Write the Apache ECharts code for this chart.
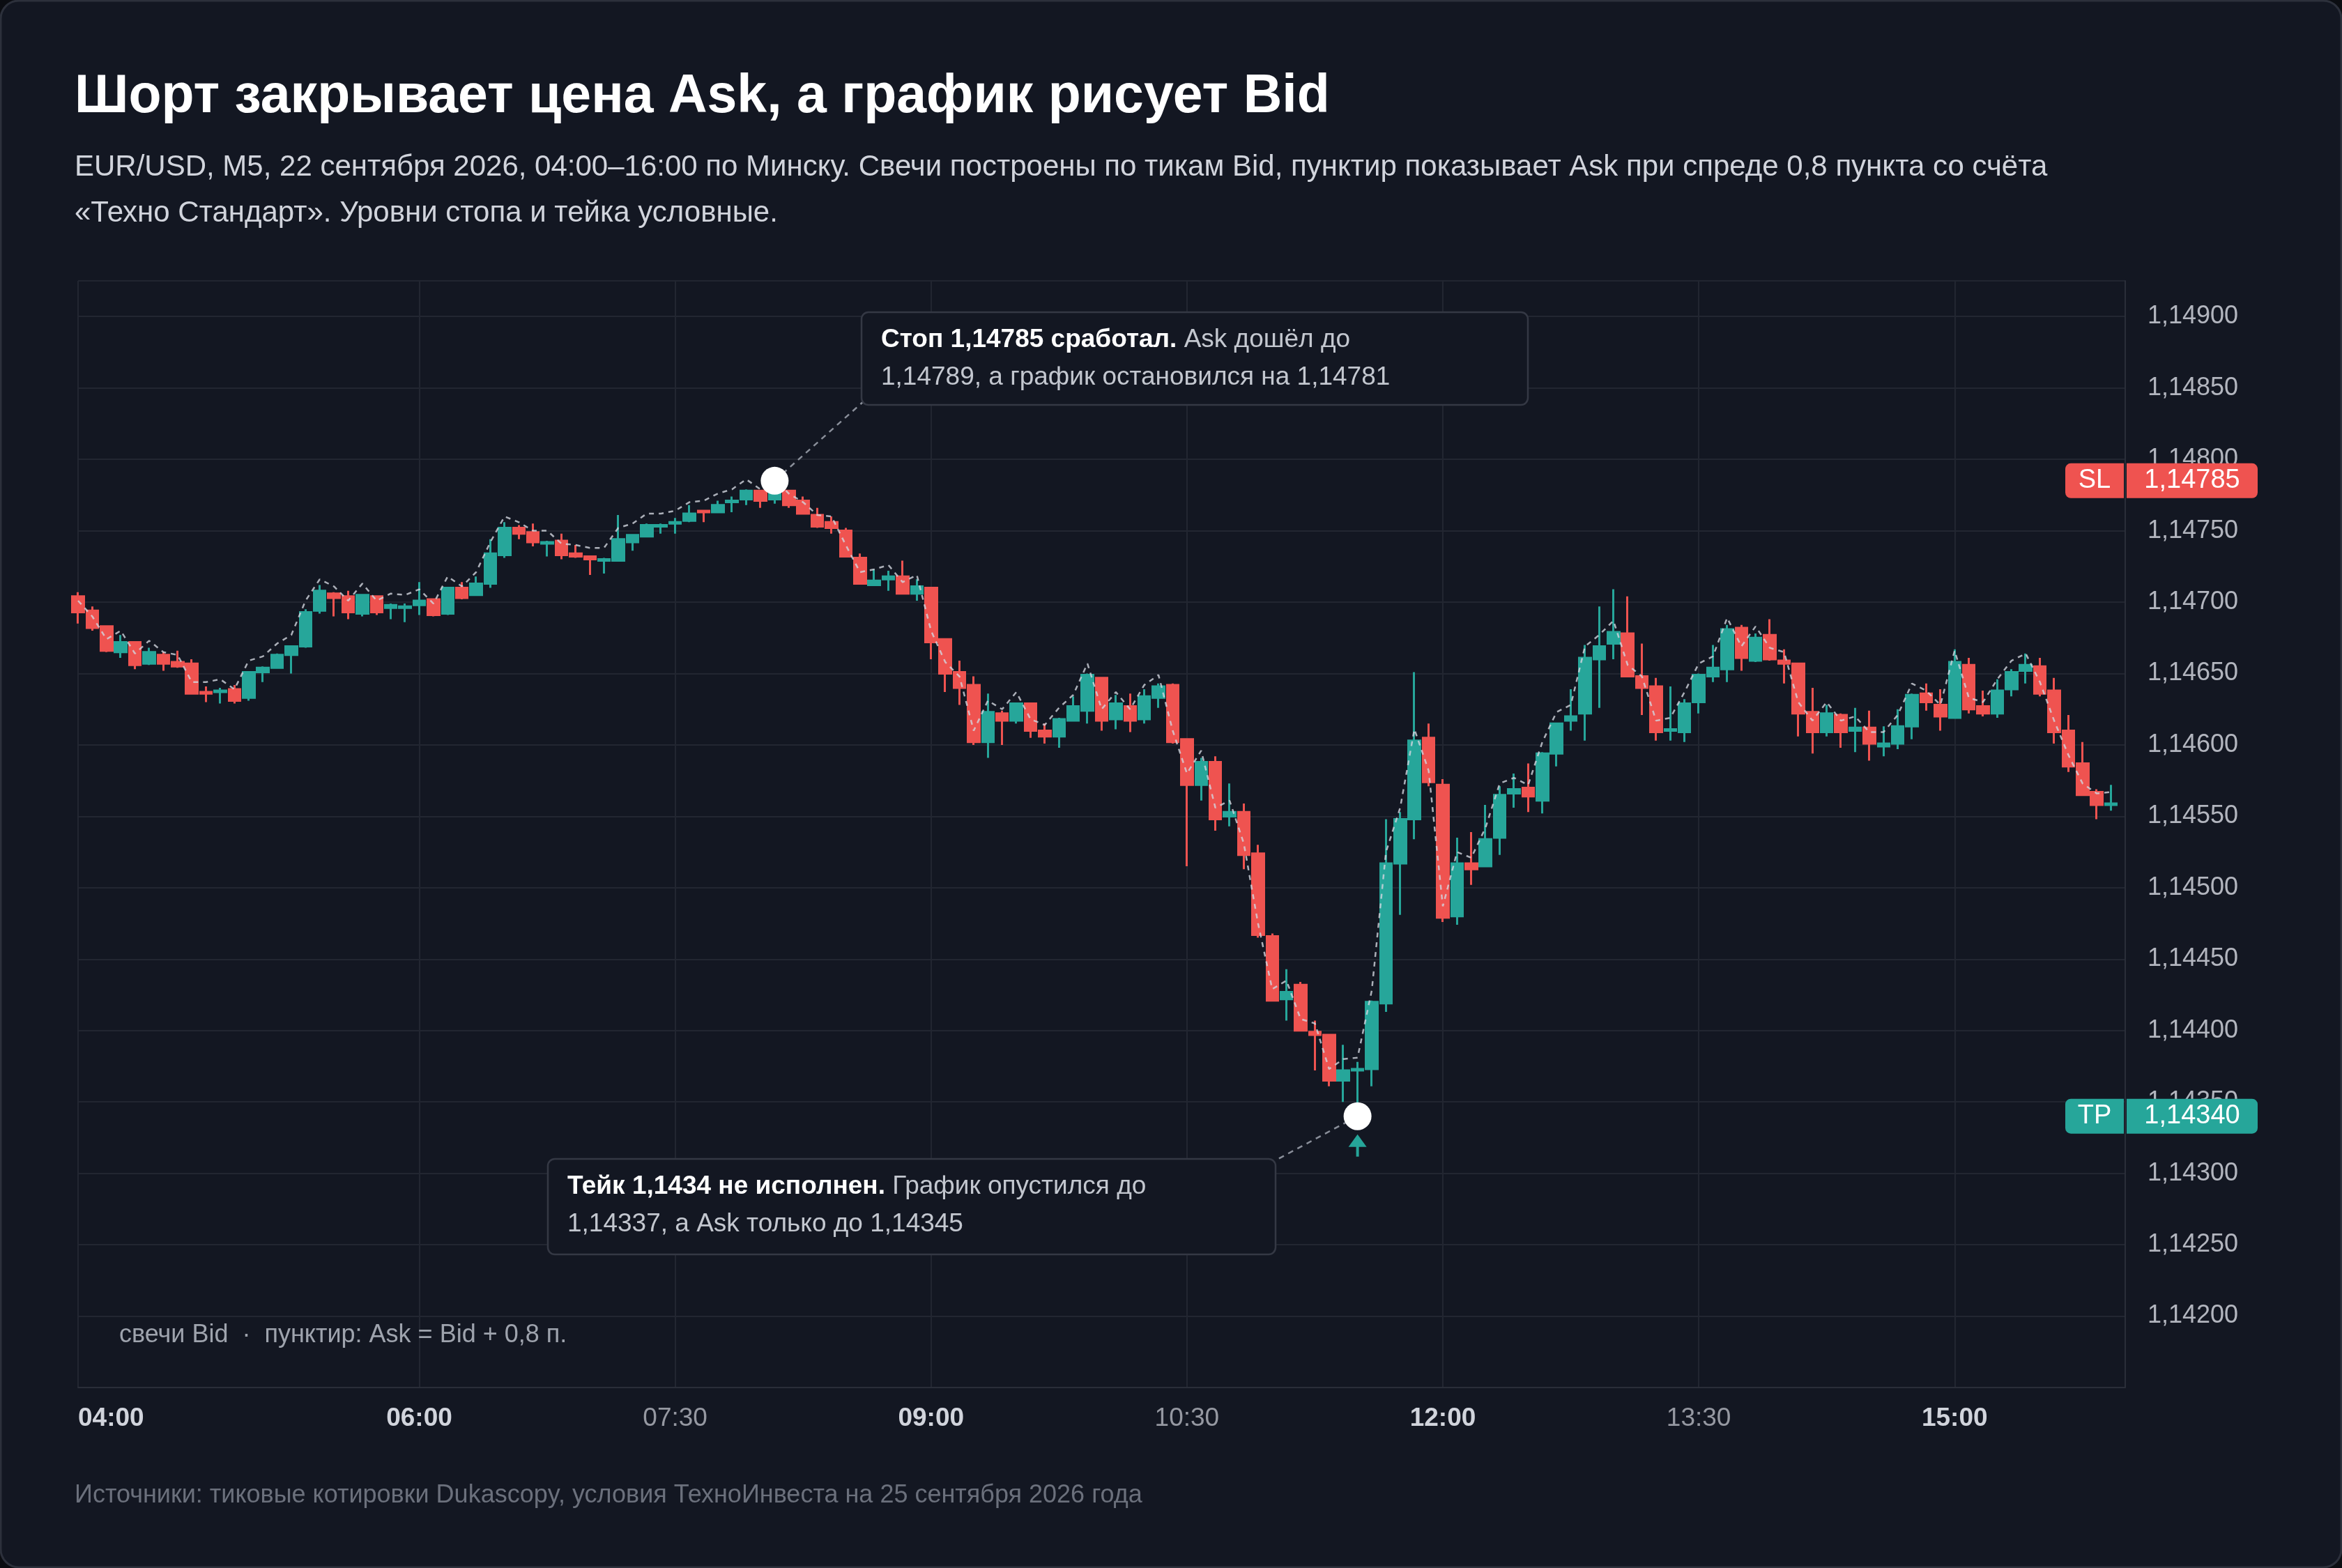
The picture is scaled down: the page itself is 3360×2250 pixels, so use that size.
<!DOCTYPE html>
<html><head><meta charset="utf-8">
<script src="https://cdn.jsdelivr.net/npm/echarts@6/dist/echarts.min.js"></script>
<style>html,body{margin:0;padding:0;background:#0b0d12;}#c{width:3360px;height:2250px;}</style>
</head><body><div id="c"></div>
<script>
const opens=[1.14704,1.14694,1.14683,1.14665,1.14672,1.14657,1.14663,1.14658,1.14657,1.14637,1.14637,1.14639,1.14633,1.14651,1.14654,1.14663,1.14669,1.14694,1.14706,1.14704,1.14692,1.14704,1.14696,1.14696,1.14698,1.14702,1.14692,1.14710,1.14705,1.14713,1.14733,1.14752,1.14749,1.14741,1.14743,1.14734,1.14732,1.14729,1.14729,1.14742,1.14746,1.14753,1.14755,1.14757,1.14764,1.14763,1.14770,1.14772,1.14778,1.14772,1.14778,1.14771,1.14761,1.14756,1.14750,1.14731,1.14712,1.14716,1.14718,1.14706,1.14710,1.14674,1.14651,1.14642,1.14602,1.14622,1.14617,1.14629,1.14610,1.14606,1.14617,1.14624,1.14647,1.14618,1.14627,1.14618,1.14633,1.14642,1.14604,1.14572,1.14588,1.14550,1.14553,1.14524,1.14466,1.14422,1.14432,1.14399,1.14397,1.14365,1.14372,1.14373,1.14419,1.14517,1.14548,1.14605,1.14572,1.14480,1.14517,1.14515,1.14535,1.14566,1.14570,1.14561,1.14594,1.14617,1.14622,1.14660,1.14671,1.14678,1.14648,1.14641,1.14610,1.14609,1.14630,1.14648,1.14653,1.14682,1.14659,1.14677,1.14659,1.14657,1.14623,1.14609,1.14621,1.14610,1.14612,1.14599,1.14601,1.14613,1.14636,1.14628,1.14619,1.14656,1.14627,1.14622,1.14639,1.14652,1.14655,1.14638,1.14610,1.14587,1.14567,1.14558];
const closes=[1.14693,1.14682,1.14666,1.14672,1.14656,1.14665,1.14657,1.14655,1.14636,1.14636,1.14638,1.14631,1.14651,1.14654,1.14663,1.14669,1.14693,1.14708,1.14703,1.14693,1.14705,1.14693,1.14698,1.14697,1.14701,1.14691,1.14710,1.14703,1.14713,1.14734,1.14752,1.14748,1.14742,1.14742,1.14733,1.14732,1.14730,1.14730,1.14744,1.14747,1.14754,1.14754,1.14756,1.14762,1.14763,1.14768,1.14771,1.14778,1.14771,1.14778,1.14768,1.14762,1.14753,1.14752,1.14732,1.14713,1.14715,1.14718,1.14706,1.14711,1.14672,1.14650,1.14640,1.14602,1.14623,1.14617,1.14629,1.14610,1.14606,1.14618,1.14627,1.14649,1.14617,1.14629,1.14617,1.14634,1.14641,1.14602,1.14572,1.14588,1.14548,1.14553,1.14523,1.14467,1.14421,1.14427,1.14400,1.14397,1.14365,1.14372,1.14373,1.14420,1.14517,1.14548,1.14603,1.14574,1.14479,1.14517,1.14513,1.14534,1.14565,1.14569,1.14564,1.14594,1.14615,1.14620,1.14661,1.14669,1.14679,1.14648,1.14640,1.14609,1.14611,1.14629,1.14649,1.14654,1.14681,1.14661,1.14675,1.14660,1.14657,1.14622,1.14609,1.14622,1.14609,1.14612,1.14601,1.14601,1.14613,1.14635,1.14630,1.14620,1.14658,1.14625,1.14622,1.14638,1.14651,1.14656,1.14636,1.14609,1.14585,1.14565,1.14558,1.14559];
const lows=[1.14685,1.14680,1.14665,1.14661,1.14653,1.14656,1.14652,1.14654,1.14636,1.14630,1.14629,1.14629,1.14631,1.14644,1.14654,1.14650,1.14668,1.14692,1.14690,1.14688,1.14690,1.14691,1.14688,1.14686,1.14691,1.14690,1.14691,1.14702,1.14705,1.14710,1.14731,1.14744,1.14739,1.14732,1.14730,1.14731,1.14719,1.14720,1.14729,1.14736,1.14746,1.14748,1.14748,1.14756,1.14756,1.14763,1.14763,1.14768,1.14766,1.14769,1.14766,1.14762,1.14752,1.14748,1.14732,1.14713,1.14712,1.14708,1.14706,1.14701,1.14660,1.14637,1.14628,1.14600,1.14591,1.14600,1.14615,1.14605,1.14601,1.14598,1.14617,1.14615,1.14610,1.14611,1.14609,1.14615,1.14626,1.14601,1.14515,1.14561,1.14540,1.14543,1.14513,1.14465,1.14421,1.14407,1.14400,1.14372,1.14361,1.14350,1.14337,1.14361,1.14413,1.14481,1.14534,1.14571,1.14476,1.14474,1.14502,1.14515,1.14523,1.14556,1.14553,1.14552,1.14585,1.14610,1.14603,1.14626,1.14660,1.14648,1.14621,1.14603,1.14603,1.14602,1.14622,1.14644,1.14644,1.14652,1.14658,1.14659,1.14643,1.14606,1.14594,1.14606,1.14598,1.14595,1.14589,1.14592,1.14597,1.14604,1.14624,1.14610,1.14619,1.14622,1.14620,1.14619,1.14634,1.14643,1.14634,1.14601,1.14581,1.14565,1.14548,1.14554];
const highs=[1.14707,1.14697,1.14683,1.14677,1.14672,1.14668,1.14665,1.14666,1.14660,1.14641,1.14640,1.14642,1.14651,1.14655,1.14664,1.14669,1.14695,1.14712,1.14707,1.14708,1.14705,1.14704,1.14699,1.14699,1.14714,1.14702,1.14710,1.14714,1.14718,1.14744,1.14756,1.14754,1.14755,1.14743,1.14748,1.14740,1.14732,1.14731,1.14761,1.14747,1.14755,1.14755,1.14759,1.14768,1.14764,1.14771,1.14774,1.14779,1.14778,1.14781,1.14778,1.14774,1.14766,1.14760,1.14752,1.14734,1.14723,1.14722,1.14729,1.14716,1.14710,1.14674,1.14659,1.14648,1.14636,1.14624,1.14629,1.14629,1.14615,1.14619,1.14634,1.14650,1.14647,1.14635,1.14636,1.14639,1.14643,1.14643,1.14604,1.14591,1.14592,1.14573,1.14559,1.14530,1.14468,1.14443,1.14434,1.14407,1.14397,1.14390,1.14378,1.14421,1.14548,1.14553,1.14651,1.14615,1.14576,1.14535,1.14539,1.14558,1.14571,1.14580,1.14587,1.14595,1.14615,1.14639,1.14670,1.14697,1.14709,1.14704,1.14671,1.14647,1.14641,1.14632,1.14650,1.14670,1.14684,1.14684,1.14678,1.14688,1.14667,1.14657,1.14640,1.14628,1.14622,1.14626,1.14624,1.14613,1.14625,1.14636,1.14643,1.14639,1.14667,1.14661,1.14638,1.14646,1.14653,1.14664,1.14661,1.14647,1.14621,1.14602,1.14569,1.14572];
const SPREAD=0.00008;
const SL=1.14785, TP=1.14340;
const slIndex=49, tpIndex=90;
const yTicks={min:1.1415,max:1.14925,interval:0.0005};
const tickTimes=['04:00','06:00','07:30','09:00','10:30','12:00','13:30','15:00'];
const boldTimes=['04:00','06:00','09:00','12:00','15:00'];

const times=[];
for(let m=4*60;m<=16*60;m+=5){times.push(String(Math.floor(m/60)).padStart(2,'0')+':'+String(m%60).padStart(2,'0'));}
const candles=opens.map((o,i)=>[o,closes[i],lows[i],highs[i]]);
const ask=closes.map(c=>+(c+SPREAD).toFixed(5));
const fmt=v=>v.toFixed(5).replace('.',',');
const UP='#26a69a', DOWN='#ef5350', BG='#131722';
const FF='"Liberation Sans", Arial, sans-serif';
const isTick=(i)=>tickTimes.includes(times[i]);

const chart=echarts.init(document.getElementById('c'),null,{renderer:'canvas',devicePixelRatio:1});
const GL=112, GR=311, GT=403, GB=259;
chart.setOption({
  backgroundColor:'transparent',
  animation:false,
  grid:{left:GL,right:GR,top:GT,bottom:GB},
  xAxis:{type:'category',data:times,boundaryGap:false,
    axisLine:{show:true,lineStyle:{color:'#2a2e39',width:2}},axisTick:{show:false},
    axisLabel:{interval:(i)=>isTick(i),margin:26,alignMinLabel:'left',
      formatter:v=>boldTimes.includes(v)?'{b|'+v+'}':'{n|'+v+'}',
      rich:{b:{fontFamily:FF,fontSize:37,fontWeight:'bold',color:'#d1d4dc'},n:{fontFamily:FF,fontSize:37,color:'#9598a1'}}},
    splitLine:{show:true,interval:(i)=>isTick(i),lineStyle:{color:'#222631',width:2}}},
  yAxis:{type:'value',position:'right',min:yTicks.min,max:yTicks.max,interval:yTicks.interval,scale:true,
    axisLine:{show:true,lineStyle:{color:'#2a2e39',width:2}},axisTick:{show:false},
    axisLabel:{margin:32,fontFamily:FF,fontSize:36,color:'#b2b5be',
      formatter:v=>(v<1.14195||v>1.14905)?'':fmt(v)},
    splitLine:{lineStyle:{color:'#222631',width:2}}},
  series:[
    {type:'candlestick',data:candles,barWidth:17,clip:false,
      itemStyle:{color:UP,color0:DOWN,borderColor:UP,borderColor0:DOWN,borderWidth:3},
      markLine:{symbol:'none',silent:true,label:{show:false},
        data:[{yAxis:SL,lineStyle:{color:DOWN,type:[8,8],width:3.5}},{yAxis:TP,lineStyle:{color:UP,type:[8,8],width:3.5}}]}},
    {type:'line',data:ask,symbol:'none',lineStyle:{color:'rgba(210,214,222,0.8)',width:2.5,type:[7,7]},z:3},
    {type:'scatter',data:[[slIndex,SL],[tpIndex,TP]],symbolSize:40,itemStyle:{color:'#ffffff',opacity:1},z:10}
  ]
});

const ps=chart.convertToPixel({seriesIndex:0},[slIndex,SL]);
const pt=chart.convertToPixel({seriesIndex:0},[tpIndex,TP]);
const slY=ps[1], tpY=pt[1];
const plotR=3360-GR;
const tagFont='38px '+FF;
function levelTag(y,name,val,col){
  return [
    {type:'rect',shape:{x:plotR-86,y:y-25,width:84,height:50,r:[8,0,0,8]},style:{fill:col},z:20},
    {type:'rect',shape:{x:plotR+2,y:y-25,width:188,height:50,r:[0,8,8,0]},style:{fill:col},z:20},
    {type:'text',x:plotR-44,y:y,style:{text:name,font:tagFont,fill:'#fff',align:'center',verticalAlign:'middle'},z:21},
    {type:'text',x:plotR+96,y:y,style:{text:fmt(val),font:tagFont,fill:'#fff',align:'center',verticalAlign:'middle'},z:21}
  ];
}
function note(x,y,w,h,bold,rest1,rest2){
  return [
    {type:'rect',shape:{x:x,y:y,width:w,height:h,r:10},style:{fill:BG,stroke:'#343844',lineWidth:2.5},z:15},
    {type:'text',x:x+28,y:y+40,style:{text:'{b|'+bold+'}{n| '+rest1+'}',verticalAlign:'middle',
      rich:{b:{font:'bold 37px '+FF,fill:'#ffffff'},n:{font:'37px '+FF,fill:'#c3c7cf'}}},z:16},
    {type:'text',x:x+28,y:y+94,style:{text:rest2,font:'37px '+FF,fill:'#c3c7cf',verticalAlign:'middle'},z:16}
  ];
}
const els=[
  {type:'rect',shape:{x:1,y:1,width:3358,height:2248,r:26},style:{fill:BG,stroke:'#2c303b',lineWidth:3},z:-10},
  {type:'text',x:107,y:140,style:{text:'Шорт закрывает цена Ask, а график рисует Bid',font:'bold 77px '+FF,fill:'#ffffff',verticalAlign:'middle'}},
  {type:'text',x:107,y:240,style:{text:'EUR/USD, M5, 22 сентября 2026, 04:00–16:00 по Минску. Свечи построены по тикам Bid, пунктир показывает Ask при спреде 0,8 пункта со счёта',font:'42px '+FF,fill:'#d1d4dc',verticalAlign:'middle'}},
  {type:'text',x:107,y:306,style:{text:'«Техно Стандарт». Уровни стопа и тейка условные.',font:'42px '+FF,fill:'#d1d4dc',verticalAlign:'middle'}},
  {type:'text',x:107,y:2146,style:{text:'Источники: тиковые котировки Dukascopy, условия ТехноИнвеста на 25 сентября 2026 года',font:'36px '+FF,fill:'#6b707c',verticalAlign:'middle'}},
  {type:'text',x:171,y:1916,style:{text:'свечи Bid  ·  пунктир: Ask = Bid + 0,8 п.',font:'36px '+FF,fill:'#9ea3ad',verticalAlign:'middle'},z:12},
  ...levelTag(slY,'SL',SL,DOWN),
  ...levelTag(tpY,'TP',TP,UP),
  {type:'line',shape:{x1:ps[0],y1:ps[1],x2:1240,y2:575},style:{stroke:'#8a8f9a',lineWidth:2.5,lineDash:[8,7]},z:9},
  {type:'line',shape:{x1:pt[0],y1:pt[1],x2:1830,y2:1665},style:{stroke:'#8a8f9a',lineWidth:2.5,lineDash:[8,7]},z:9},
  ...note(1236,448,956,133,'Стоп 1,14785 сработал.','Ask дошёл до','1,14789, а график остановился на 1,14781'),
  ...note(786,1663,1044,137,'Тейк 1,1434 не исполнен.','График опустился до','1,14337, а Ask только до 1,14345'),
  {type:'polygon',shape:{points:[[pt[0],pt[1]+26],[pt[0]-13,pt[1]+44],[pt[0]+13,pt[1]+44]]},style:{fill:UP},z:12},
  {type:'line',shape:{x1:pt[0],y1:pt[1]+40,x2:pt[0],y2:pt[1]+58},style:{stroke:UP,lineWidth:4},z:12}
];
chart.setOption({graphic:{elements:els}});
</script></body></html>
